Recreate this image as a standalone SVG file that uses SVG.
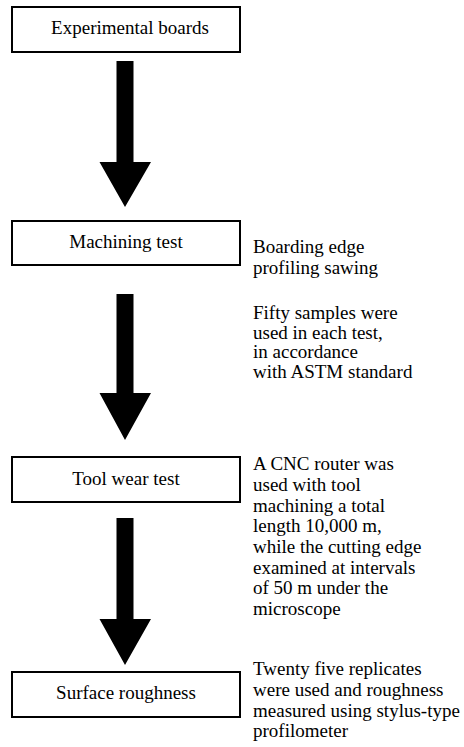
<svg xmlns="http://www.w3.org/2000/svg" width="464" height="747" viewBox="0 0 464 747">
<style>
.box{fill:#fff;stroke:#000;stroke-width:2}
.arr{fill:#000}
.t{font-family:'Liberation Serif','Times New Roman',serif;font-size:19px;fill:#000}
.c{text-anchor:middle}
</style>
<rect width="464" height="747" fill="#fff"/>
<g id="connectors">
<polygon class="arr" points="116.5,61 133.5,61 133.5,162 151,162 125,207 99.5,162 116.5,162"/>
<polygon class="arr" points="116.5,294 133.5,294 133.5,393 151,393 125,440 99.5,393 116.5,393"/>
<polygon class="arr" points="116.5,518 133.5,518 133.5,619 151,619 125,665 99.5,619 116.5,619"/>
</g>
<g id="n1">
<rect class="box" x="12" y="7" width="228" height="45"/>
<text class="t c" x="130" y="34">Experimental boards</text>
</g>
<g id="n2">
<rect class="box" x="12" y="221" width="228" height="44"/>
<text class="t c" x="126" y="248">Machining test</text>
</g>
<g id="n3">
<rect class="box" x="12" y="457" width="228" height="45"/>
<text class="t c" x="126" y="485">Tool wear test</text>
</g>
<g id="n4">
<rect class="box" x="12" y="672" width="228" height="45"/>
<text class="t c" x="126" y="699">Surface roughness</text>
</g>
<g id="note2">
<text class="t" x="253" y="253">Boarding edge</text>
<text class="t" x="253" y="274">profiling sawing</text>
<text class="t" x="253" y="319">Fifty samples were</text>
<text class="t" x="253" y="338.5">used in each test,</text>
<text class="t" x="253" y="358">in accordance</text>
<text class="t" x="253" y="378">with ASTM standard</text>
</g>
<g id="note3">
<text class="t" x="253" y="470">A CNC router was</text>
<text class="t" x="253" y="491">used with tool</text>
<text class="t" x="253" y="511.5">machining a total</text>
<text class="t" x="253" y="532">length 10,000 m,</text>
<text class="t" x="253" y="553">while the cutting edge</text>
<text class="t" x="253" y="573.5">examined at intervals</text>
<text class="t" x="253" y="594">of 50 m under the</text>
<text class="t" x="253" y="614.5">microscope</text>
</g>
<g id="note4">
<text class="t" x="253" y="675">Twenty five replicates</text>
<text class="t" x="253" y="696">were used and roughness</text>
<text class="t" x="253" y="716.5">measured using stylus-type</text>
<text class="t" x="253" y="737">profilometer</text>
</g>
</svg>
